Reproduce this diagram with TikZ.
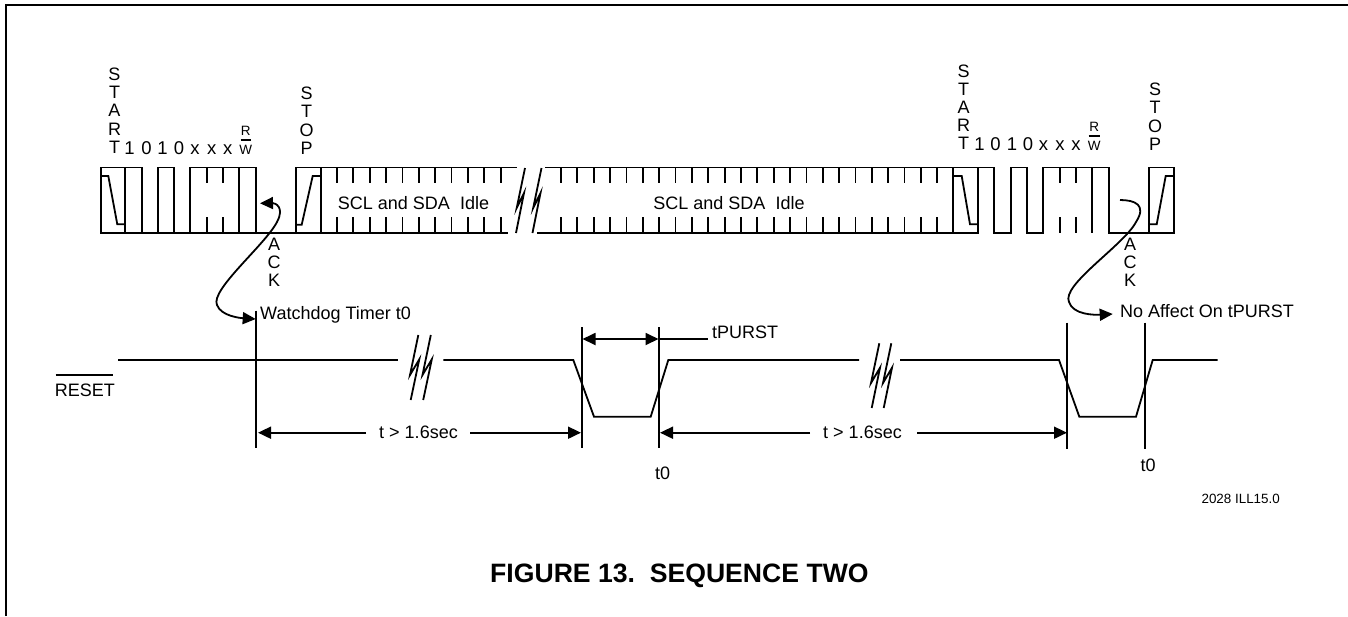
\documentclass[tikz,border=0pt]{standalone}
\usepackage{fontspec}
\setmainfont{Liberation Sans}
\usetikzlibrary{arrows.meta}
\tikzset{
  wave/.style={line width=1.8pt,line join=miter},
  lbl/.style={inner sep=0pt,font=\fontsize{18}{18}\selectfont},
  vlbl/.style={inner sep=0pt,font=\fontsize{18}{18.2}\selectfont,align=center},
  head/.style={Triangle[length=13pt,width=12pt]},
  dim/.style={line width=1.8pt,{Triangle[length=13pt,width=12pt]}-{Triangle[length=13pt,width=12pt]}},
  dimr/.style={line width=1.8pt,-{Triangle[length=13pt,width=12pt]}},
  bits/.style={inner sep=0pt,font=\fontsize{18.5}{18}\selectfont,anchor=base},
  rw/.style={inner sep=0pt,font=\fontsize{13.5}{13}\selectfont,anchor=center},
}
\begin{document}
\begin{tikzpicture}[x=1pt,y=-1pt]
\useasboundingbox (0,0) rectangle (1348,616);
\draw[line width=2.2pt] (6,616) -- (6,5) -- (1348,5);
% ---------- upper waveform left
\draw[wave] (321.3,233) -- (100.7,233) -- (100.7,167.5) -- (125.3,167.5) -- (125.3,233) -- (125.3,167.5) -- (141.7,167.5) -- (141.7,233) -- (158.3,233) -- (158.3,167.5) -- (174,167.5) -- (174,233) -- (190,233) -- (190,167.5) -- (255.7,167.5) -- (255.7,233) -- (296,233) -- (296,167.5) -- (321.3,167.5) -- (321.3,233);
\draw[wave] (239.3,167.5) -- (239.3,233);
\foreach \x in {206.7,223}{\draw[wave] (\x,167.5) -- (\x,183) (\x,217) -- (\x,233);}
\draw[wave] (101.7,176) -- (108.3,176) -- (117.3,224.3) -- (125,224.3);
\draw[wave] (296.5,224.7) -- (301.7,224.7) -- (312.7,176) -- (321,176);
% idle left
\draw[wave] (321.3,167.5) -- (516.7,167.5);
\draw[wave] (321.3,233) -- (508.3,233);
\foreach \i in {0,...,10}{\draw[wave] ({337+16.37*\i},167.5) -- ++(0,15.5) ({337+16.37*\i},217) -- ++(0,16);}
% break
\foreach \d in {0,16.5}{\draw[wave] ({525+\d},168) -- ({516.7+\d},208) -- ({524+\d},193) -- ({516+\d},233);}
% idle right
\draw[wave] (545,167.5) -- (953.3,167.5);
\draw[wave] (537.3,233) -- (953.3,233);
\foreach \i in {0,...,23}{\draw[wave] ({561+16.36*\i},167.5) -- ++(0,15.5) ({561+16.36*\i},217) -- ++(0,16);}
% upper waveform right
\draw[wave] (953.3,167.5) -- (953.3,233) -- (978.3,233) -- (978.3,167.5) -- (953.3,167.5);
\draw[wave] (978.3,167.5) -- (994.3,167.5) -- (994.3,233) -- (1010.7,233) -- (1010.7,167.5) -- (1027,167.5) -- (1027,233) -- (1043.3,233) -- (1043.3,167.5) -- (1109,167.5) -- (1109,233) -- (1149,233) -- (1149,167.5) -- (1174.3,167.5) -- (1174.3,233) -- (1149,233);
\draw[wave] (1092.3,167.5) -- (1092.3,233);
\foreach \x in {1060,1076}{\draw[wave] (\x,167.5) -- (\x,183) (\x,217) -- (\x,233);}
\draw[wave] (953.3,176) -- (961.7,176) -- (970,224.3) -- (978,224.3);
\draw[wave] (1149,224.3) -- (1156.7,224.3) -- (1165.7,176) -- (1174,176);
% labels upper
\node[vlbl,anchor=south] (startA) at (114.5,153.5) {S\\T\\A\\R\\T};
\node[vlbl,anchor=south] (stopA) at (306.5,154.5) {S\\T\\O\\P};
\node[vlbl,anchor=south] (startB) at (963.5,150) {S\\T\\A\\R\\T};
\node[vlbl,anchor=south] (stopB) at (1155,150.5) {S\\T\\O\\P};
\foreach \n/\x/\t in {a/129.5/1,b/146.5/0,c/162.5/1,d/179/0,e/195/x,f/211.7/x,g/227.7/x}{
  \node[bits] (\n) at (\x,154) {\t};}
\node[rw] (rwa) at (245.7,131) {R};
\node[rw] (wa) at (245.7,150) {W};
\draw[line width=1.5pt] (240.7,140) -- (251,140);
\foreach \n/\x/\t in {a2/979.5/1,b2/995.5/0,c2/1012/1,d2/1028/0,e2/1043.5/x,f2/1060/x,g2/1076/x}{
  \node[bits] (\n) at (\x,150) {\t};}
\node[rw] (rwb) at (1094.3,126.7) {R};
\node[rw] (wb) at (1094.3,145.7) {W};
\draw[line width=1.5pt] (1088.7,136) -- (1099.5,136);
\node[lbl] (idleA) at (413.5,203) {SCL and SDA\ \ Idle};
\node[lbl] (idleB) at (729,203) {SCL and SDA\ \ Idle};
% ack
\node[vlbl,anchor=north] (ackA) at (274,238) {A\\C\\K};
\node[vlbl,anchor=north] (ackB) at (1130,238) {A\\C\\K};
\node[lbl,anchor=west] (wd) at (260,315) {Watchdog Timer t0};
\node[lbl,anchor=west] (noaff) at (1120,310.7) {No Affect On tPURST};
\coordinate (wdtip) at (255.7,319);
\coordinate (acktipA) at (260,203.3);
\coordinate (acktipB) at (1112.7,314);
\coordinate (ackstartB) at (1120,200);
\draw[wave,{Triangle[length=13pt,width=12pt]}-{Triangle[length=13pt,width=12pt]}] (acktipA) .. controls (275,203) and (285,207) .. (277,222) .. controls (265,245) and (210,290) .. (217,305) .. controls (221,316) and (240,318) .. (wdtip);
\draw[wave,-{Triangle[length=13pt,width=12pt]}] (ackstartB) .. controls (1135,200) and (1147,205) .. (1136,222) .. controls (1124,245) and (1061,285) .. (1069,302) .. controls (1073,315) and (1095,315) .. (acktipB);
% reset
\node[lbl,anchor=east] (rst) at (115,390.5) {RESET};
\draw[line width=1.5pt] ([xshift=1pt]rst.west |- 0,375) -- (112.7,375);
\coordinate (rA) at (118,360);
\draw[wave] (rA) -- (398,360);
\foreach \d in {0,12.5}{\draw[wave] ({418.3+\d},335) -- ({410+\d},375) -- ({419.3+\d},359.3) -- ({410.7+\d},400);}
\draw[wave] (443.3,360) -- (573.3,360) -- (594,416.7) -- (650.7,416.7) -- (668.3,360) -- (859,360);
\foreach \d in {0,12}{\draw[wave] ({879.3+\d},343.3) -- ({871+\d},383) -- ({880+\d},367.7) -- ({871.7+\d},408);}
\draw[wave] (900,360) -- (1059,360) -- (1079.3,416.7) -- (1136,416.7) -- (1152.7,360) -- (1217.7,360);
% verticals
\draw[wave] (255.7,310.7) -- (255.7,448);
\draw[wave] (581.7,327.3) -- (581.7,448.3);
\draw[wave] (659.3,327.3) -- (659.3,448.3);
\draw[wave] (1067.3,322.7) -- (1067.3,448.7);
\draw[wave] (1144.7,322.7) -- (1144.7,448.7);
% dims
\node[lbl] (t1) at (418.5,432.7) {t > 1.6sec};
\node[lbl] (t2) at (862.5,432.7) {t > 1.6sec};
\draw[dimr] (366,432.7) -- (258,432.7);
\draw[dimr] (470,432.7) -- (581,432.7);
\draw[dimr] (810,432.7) -- (660,432.7);
\draw[dimr] (917,432.7) -- (1067,432.7);
\draw[dim] (582.5,339) -- (658.5,339);
\draw[wave] (658.5,339) -- (708.3,339);
\node[lbl,anchor=west] (tp) at (712,332.7) {tPURST};
\node[lbl] (t01) at (662.5,473.5) {t0};
\node[lbl] (t02) at (1148,465.5) {t0};
\node[inner sep=0pt,font=\fontsize{13.4}{13}\selectfont] (ill) at (1240.7,499) {2028 ILL15.0};
\node[inner sep=0pt,anchor=west,font=\fontsize{26.6}{27}\selectfont\bfseries] (cap) at (490,575.5) {FIGURE 13.\ \ SEQUENCE TWO};
\end{tikzpicture}
\end{document}
